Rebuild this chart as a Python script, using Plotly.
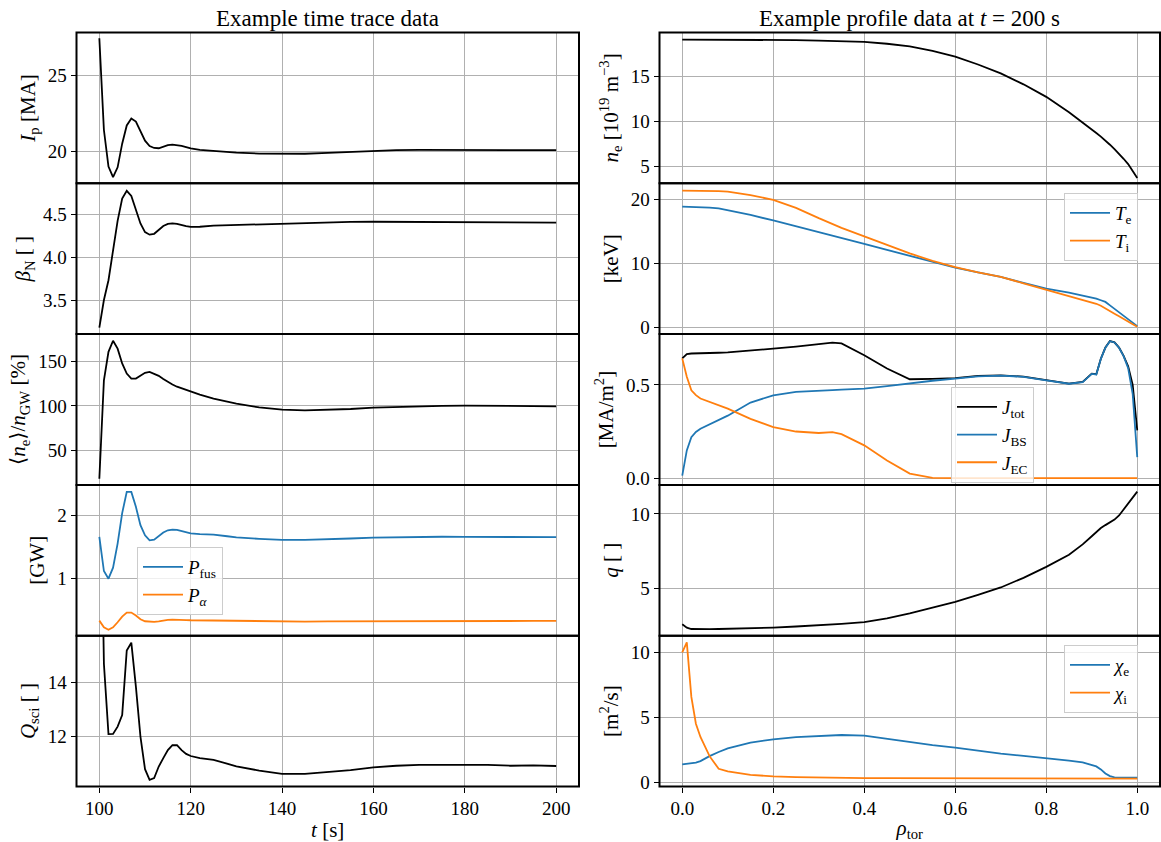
import plotly.graph_objects as go

# ---------------- time-trace data ----------------
t = [100, 101, 102, 103, 104, 105, 106, 107, 108, 109, 110, 111, 112, 113, 114, 115, 116, 117, 118, 119, 120,
     122, 125, 128, 130, 135, 140, 145, 150, 155, 160, 165, 170, 175, 180, 185, 190, 195, 200]
ip = [27.42, 21.4, 19.0, 18.3, 18.95, 20.5, 21.7, 22.15, 21.95, 21.3, 20.7, 20.35, 20.22, 20.2, 20.3, 20.4, 20.44, 20.42, 20.36, 20.28, 20.2,
      20.1, 20.02, 19.95, 19.92, 19.85, 19.82, 19.84, 19.9, 19.97, 20.05, 20.08, 20.09, 20.09, 20.09, 20.08, 20.08, 20.07, 20.08]
beta_n = [3.18, 3.50, 3.73, 4.08, 4.42, 4.68, 4.77, 4.71, 4.56, 4.39, 4.29, 4.26, 4.27, 4.31, 4.36, 4.385, 4.39, 4.385, 4.37, 4.36, 4.35,
          4.352, 4.365, 4.37, 4.375, 4.38, 4.39, 4.398, 4.405, 4.408, 4.41, 4.408, 4.405, 4.403, 4.40, 4.40, 4.40, 4.40, 4.40]
ne_ngw = [18.7, 128.7, 160.4, 172.8, 164, 147.4, 136.2, 130.6, 130.6, 133.6, 137, 138, 136.2, 133.6, 130.2, 126.9, 124, 121.5, 119.6, 117.7, 115.8,
          112.7, 108.2, 104.8, 102.7, 98.3, 95.8, 95.0, 95.4, 96.6, 98.1, 99.0, 99.6, 100.1, 100.4, 100.3, 100.0, 99.8, 99.6]
p_fus = [1.656, 1.116, 0.995, 1.17, 1.55, 2.03, 2.365, 2.365, 2.13, 1.84, 1.68, 1.60, 1.61, 1.667, 1.725, 1.76, 1.77, 1.765, 1.746, 1.725, 1.71,
         1.70, 1.69, 1.665, 1.647, 1.625, 1.608, 1.609, 1.615, 1.63, 1.645, 1.652, 1.656, 1.657, 1.656, 1.655, 1.654, 1.652, 1.651]
p_alpha = [0.333, 0.228, 0.19, 0.228, 0.307, 0.397, 0.46, 0.46, 0.413, 0.354, 0.323, 0.314, 0.313, 0.322, 0.336, 0.344, 0.348, 0.349, 0.346, 0.342, 0.339,
           0.337, 0.335, 0.331, 0.328, 0.322, 0.317, 0.318, 0.32, 0.322, 0.323, 0.324, 0.325, 0.326, 0.327, 0.327, 0.328, 0.328, 0.328]
q_sci = [25, 14.7, 12.09, 12.1, 12.37, 12.8, 15.19, 15.48, 13.85, 12.0, 10.79, 10.4, 10.46, 10.89, 11.2, 11.5, 11.68, 11.68, 11.5, 11.36, 11.28,
         11.2, 11.14, 10.98, 10.9, 10.74, 10.62, 10.62, 10.69, 10.76, 10.86, 10.92, 10.95, 10.96, 10.95, 10.95, 10.92, 10.93, 10.91]

# ---------------- profile data ----------------
rho = [0, 0.01, 0.02, 0.03, 0.04, 0.05, 0.06, 0.08, 0.1,
       0.15, 0.2, 0.25, 0.3, 0.33, 0.35, 0.4, 0.45, 0.5, 0.55, 0.6, 0.65, 0.7, 0.75, 0.8, 0.85,
       0.88, 0.9,
       0.91, 0.92, 0.93, 0.94, 0.95, 0.96, 0.97, 0.98, 0.99, 1.0]
ne = [19.07, 19.07, 19.07, 19.07, 19.07, 19.07, 19.07, 19.07, 19.07,
      19.06, 19.04, 19.0, 18.95, 18.92, 18.88, 18.8, 18.6, 18.3, 17.8, 17.17, 16.3, 15.32, 14.1, 12.71, 11.0,
      9.9, 9.1,
      8.7, 8.3, 7.88, 7.4, 6.9, 6.4, 5.84, 5.25, 4.54, 3.72]
te = [18.91, 18.9, 18.88, 18.86, 18.83, 18.79, 18.74, 18.62, 18.35,
      17.6, 16.74, 15.85, 14.95, 14.4, 14.05, 13.11, 12.15, 11.2, 10.28, 9.38, 8.63, 7.93, 7.0, 6.11, 5.5,
      5.08, 4.75,
      4.55, 4.3, 4.04, 3.5, 2.95, 2.45, 1.9, 1.35, 0.8, 0.26]
ti = [21.4, 21.4, 21.4, 21.4, 21.4, 21.39, 21.38, 21.33, 21.25,
      20.7, 19.95, 18.7, 17.1, 16.2, 15.6, 14.25, 12.9, 11.6, 10.45, 9.48, 8.65, 7.93, 6.95, 5.96, 4.95,
      4.35, 3.95,
      3.75, 3.45, 3.0, 2.6, 2.2, 1.8, 1.35, 0.95, 0.55, 0.16]
j_tot = [0.642, 0.665, 0.668, 0.668, 0.669, 0.67, 0.67, 0.672, 0.674,
         0.682, 0.694, 0.705, 0.716, 0.726, 0.722, 0.659, 0.588, 0.53, 0.532, 0.536, 0.548, 0.551, 0.544, 0.525, 0.507,
         0.516, 0.56,
         0.557, 0.64, 0.70, 0.735, 0.728, 0.70, 0.655, 0.60, 0.50, 0.256]
j_bs = [0.014, 0.149, 0.22, 0.248, 0.265, 0.276, 0.287, 0.31, 0.335,
        0.405, 0.444, 0.462, 0.47, 0.472, 0.474, 0.48, 0.493, 0.508, 0.522, 0.533, 0.546, 0.55, 0.543, 0.524, 0.506,
        0.515, 0.559,
        0.556, 0.639, 0.699, 0.734, 0.727, 0.699, 0.654, 0.59, 0.45, 0.113]
j_ec = [0.642, 0.543, 0.471, 0.445, 0.427, 0.418, 0.41, 0.391, 0.373,
        0.318, 0.274, 0.25, 0.242, 0.247, 0.236, 0.176, 0.095, 0.025, 0.002, 0, 0, 0, 0, 0, 0,
        0, 0,
        0, 0, 0, 0, 0, 0, 0, 0, 0, 0]
q = [2.57, 2.34, 2.25, 2.24, 2.24, 2.24, 2.24, 2.25, 2.26,
     2.3, 2.35, 2.42, 2.5, 2.55, 2.6, 2.72, 2.97, 3.3, 3.68, 4.08, 4.55, 5.05, 5.7, 6.44, 7.25,
     7.95, 8.5,
     8.8, 9.05, 9.25, 9.45, 9.62, 9.9, 10.3, 10.7, 11.1, 11.51]
chi_e = [1.37, 1.42, 1.47, 1.5, 1.62, 1.83, 2.0, 2.32, 2.6,
         3.05, 3.3, 3.47, 3.57, 3.61, 3.63, 3.58, 3.33, 3.07, 2.85, 2.65, 2.4, 2.19, 2.02, 1.86, 1.66,
         1.52, 1.3,
         1.21, 0.98, 0.66, 0.46, 0.37, 0.35, 0.34, 0.34, 0.34, 0.34]
chi_i = [10.0, 10.77, 6.57, 4.5, 3.48, 2.75, 2.0, 1.03, 0.82,
         0.56, 0.44, 0.38, 0.34, 0.33, 0.32, 0.31, 0.3, 0.3, 0.29, 0.29, 0.29, 0.28, 0.28, 0.28, 0.28,
         0.27, 0.27,
         0.27, 0.27, 0.27, 0.27, 0.27, 0.27, 0.26, 0.26, 0.26, 0.26]

# ---------------- axis labels / ticks ----------------
left_ylabels = ["<i>I</i><sub>p</sub> [MA]", "<i>β</i><sub>N</sub> [ ]",
                "⟨<i>n</i><sub>e</sub>⟩/<i>n</i><sub>GW</sub> [%]", "[GW]", "<i>Q</i><sub>sci</sub> [ ]"]
right_ylabels = ["<i>n</i><sub>e</sub> [10<sup>19</sup> m<sup>−3</sup>]", "[keV]",
                 "[MA/m<sup>2</sup>]", "<i>q</i> [ ]", "[m<sup>2</sup>/s]"]
left_yticks = [[20, 25], [3.5, 4.0, 4.5], [50, 100, 150], [1, 2], [12, 14]]
right_yticks = [[5, 10, 15], [0, 10, 20], [0.0, 0.5], [5, 10], [0, 5, 10]]
left_yranges = [[17.9, 27.8], [3.104, 4.857], [11.9, 180.2], [0.095, 2.476], [10.15, 15.74]]
right_yranges = [[3.12, 19.85], [-0.98, 22.54], [-0.036, 0.772], [1.80, 11.96], [-0.34, 11.29]]
left_ytickfmt = ["d", ".1f", "d", "d", "d"]
right_ytickfmt = ["d", "d", ".1f", "d", "d"]
t_ticks = [100, 120, 140, 160, 180, 200]
rho_ticks = [0.0, 0.2, 0.4, 0.6, 0.8, 1.0]

BLUE = "#1f77b4"
ORANGE = "#ff7f0e"
BLACK = "black"
FONT = "Liberation Serif, DejaVu Serif, serif"
LW = 1.8

W, H = 1161, 842
edges = [32.5 + 150.8 * i for i in range(6)]
LX = [76.5 / W, 579 / W]
RX = [659.5 / W, 1160 / W]

fig = go.Figure()


def add(n, x, y, color, name=None, legend=None):
    fig.add_trace(go.Scatter(
        x=x, y=y, mode="lines", line=dict(color=color, width=LW),
        xaxis="x%d" % n, yaxis="y%d" % n,
        name=name if name else "", showlegend=bool(name),
        legend=legend if legend else "legend"))


# left column
add(1, t, ip, BLACK)
add(2, t, beta_n, BLACK)
add(3, t, ne_ngw, BLACK)
add(4, t, p_fus, BLUE, "<i>P</i><sub>fus</sub>", "legend")
add(4, t, p_alpha, ORANGE, "<i>P</i><sub><i>α</i></sub>", "legend")
add(5, t, q_sci, BLACK)
# right column
add(6, rho, ne, BLACK)
add(7, rho, te, BLUE, "<i>T</i><sub>e</sub>", "legend2")
add(7, rho, ti, ORANGE, "<i>T</i><sub>i</sub>", "legend2")
add(8, rho, j_tot, BLACK, "<i>J</i><sub>tot</sub>", "legend3")
add(8, rho, j_bs, BLUE, "<i>J</i><sub>BS</sub>", "legend3")
add(8, rho, j_ec, ORANGE, "<i>J</i><sub>EC</sub>", "legend3")
add(9, rho, q, BLACK)
add(10, rho, chi_e, BLUE, "<i>χ</i><sub>e</sub>", "legend4")
add(10, rho, chi_i, ORANGE, "<i>χ</i><sub>i</sub>", "legend4")


def common():
    return dict(showgrid=True, gridcolor="#b0b0b0", gridwidth=1.3,
                showline=False,
                ticks="outside", ticklen=5, tickwidth=1.3, tickcolor="black",
                zeroline=False, automargin=False,
                tickfont=dict(family=FONT, size=19, color="black"))


layout = dict(
    width=W, height=H, autosize=False,
    margin=dict(l=0, r=0, t=0, b=0, pad=0),
    paper_bgcolor="white", plot_bgcolor="white",
    font=dict(family=FONT, size=19, color="black"),
    template="none",
)

shapes = []
for i in range(5):
    top = 1 - edges[i] / H
    bot = 1 - edges[i + 1] / H
    # left
    n = i + 1
    xa = common()
    xa.update(domain=LX, anchor="y%d" % n, range=[95, 205], tickvals=t_ticks,
              showticklabels=(i == 4))
    if i == 4:
        xa["title"] = dict(text="<i>t</i> [s]", font=dict(family=FONT, size=21), standoff=4)
    ya = common()
    ya.update(domain=[bot, top], anchor="x%d" % n, range=left_yranges[i],
              tickvals=left_yticks[i], tickformat=left_ytickfmt[i],
              title=dict(text=left_ylabels[i], font=dict(family=FONT, size=21), standoff=6))
    layout["xaxis%d" % n] = xa
    layout["yaxis%d" % n] = ya
    # right
    n = i + 6
    xa = common()
    xa.update(domain=RX, anchor="y%d" % n, range=[-0.05, 1.05], tickvals=rho_ticks,
              tickformat=".1f", showticklabels=(i == 4))
    if i == 4:
        xa["title"] = dict(text="<i>ρ</i><sub>tor</sub>", font=dict(family=FONT, size=21), standoff=4)
    ya = common()
    ya.update(domain=[bot, top], anchor="x%d" % n, range=right_yranges[i],
              tickvals=right_yticks[i], tickformat=right_ytickfmt[i],
              title=dict(text=right_ylabels[i], font=dict(family=FONT, size=21), standoff=6))
    layout["xaxis%d" % n] = xa
    layout["yaxis%d" % n] = ya
    for dom in (LX, RX):
        shapes.append(dict(type="rect", xref="paper", yref="paper",
                           x0=dom[0], x1=dom[1], y0=bot, y1=top,
                           line=dict(color="black", width=2),
                           fillcolor="rgba(0,0,0,0)", layer="above"))
layout["shapes"] = shapes

leg_style = dict(bgcolor="rgba(255,255,255,0.8)", bordercolor="#cccccc", borderwidth=1,
                 font=dict(family=FONT, size=19, color="black"),
                 xanchor="left", yanchor="top", xref="paper", yref="paper",
                 itemwidth=40)
layout["legend"] = dict(leg_style, x=137 / W, y=1 - 547 / H)
layout["legend2"] = dict(leg_style, x=1064 / W, y=1 - 193 / H)
layout["legend3"] = dict(leg_style, x=951 / W, y=1 - 387 / H)
layout["legend4"] = dict(leg_style, x=1064 / W, y=1 - 645 / H)

layout["annotations"] = [
    dict(text="Example time trace data", x=(LX[0] + LX[1]) / 2, y=1 - 19 / H,
         xref="paper", yref="paper", showarrow=False, xanchor="center", yanchor="middle",
         font=dict(family=FONT, size=23, color="black")),
    dict(text="Example profile data at <i>t</i> = 200 s", x=(RX[0] + RX[1]) / 2, y=1 - 19 / H,
         xref="paper", yref="paper", showarrow=False, xanchor="center", yanchor="middle",
         font=dict(family=FONT, size=23, color="black")),
]

fig.update_layout(**layout)
fig.write_html("out.html")
